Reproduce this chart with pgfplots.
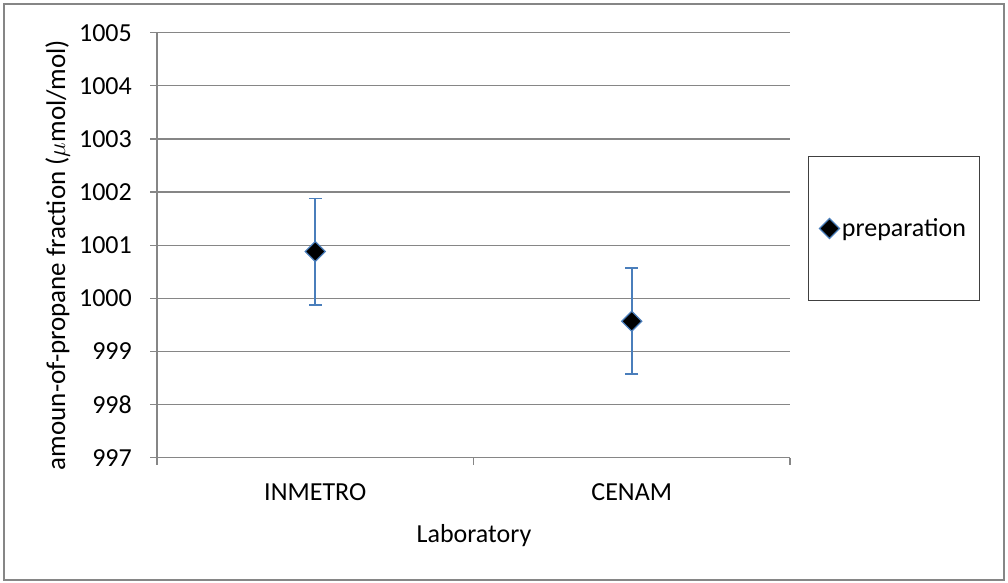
\documentclass[border=0pt]{standalone}
\usepackage{pgfplots}
\pgfplotsset{compat=1.18}
\usepackage{fontspec}
\setmainfont{Carlito}
\definecolor{gridgray}{HTML}{868686}
\definecolor{errblue}{HTML}{4A7EBB}
\definecolor{legframe}{HTML}{404040}
\begin{document}
\begin{tikzpicture}[x=1pt,y=1pt,font=\fontsize{26}{31}\selectfont]
\useasboundingbox (0,0) rectangle (1008,582);
\draw[gridgray, line width=1.5pt] (4,2) rectangle (1004,578);
\begin{axis}[
  at={(157pt,124.3pt)}, anchor=south west,
  scale only axis, width=633pt, height=425pt,
  xmin=0.5, xmax=2.5, ymin=997, ymax=1005,
  clip=false,
  axis x line*=bottom, axis y line*=left,
  axis line style={gridgray, line width=1.2pt, -},
  xtick={0.5,1.5,2.5}, xticklabels={},
  ytick={997,998,...,1005},
  ymajorgrids, grid style={gridgray, line width=1.2pt},
  tick align=outside, major tick length=7pt,
  tick style={gridgray, line width=1.2pt},
  /pgf/number format/assume math mode=true,
  /pgf/number format/1000 sep={},
  yticklabel style={anchor=east, inner sep=0pt, xshift=-18pt, font=\fontsize{26}{31}\selectfont},
  legend style={at={(1.0284,0.710)}, anchor=north west, draw=legframe, line width=1pt,
    minimum width=171pt, minimum height=144pt, column sep=0pt,
    nodes={minimum width=0pt, minimum height=0pt, inner xsep=2.5pt, inner ysep=2pt},
    font=\fontsize{26}{31}\selectfont},
  legend image code/.code={\draw[#1] plot coordinates {(0pt,0pt)};},
]
\addplot[only marks, mark=square*, mark size=7.07pt,
  mark options={rotate=45, fill=black, draw=errblue, line width=1.2pt},
  error bars/.cd, y dir=both, y explicit,
  error bar style={errblue, line width=1.8pt},
  error mark options={errblue, line width=1.8pt, mark size=6.5pt, rotate=90}]
  coordinates {(1,1000.88) +- (0,1.0) (2,999.57) +- (0,1.0)};
\addlegendentry{preparation}
\node[anchor=base] at (axis cs:1,997) [yshift=-42.3pt] {INMETRO};
\node[anchor=base] at (axis cs:2,997) [yshift=-42.3pt] {CENAM};
\end{axis}
\node[rotate=90, anchor=base, font=\fontsize{27}{32}\selectfont] at (65,327) {amoun-of-propane fraction ($\mu$mol/mol)};
\node[anchor=base] at (474,40) {Laboratory};
\end{tikzpicture}
\end{document}
